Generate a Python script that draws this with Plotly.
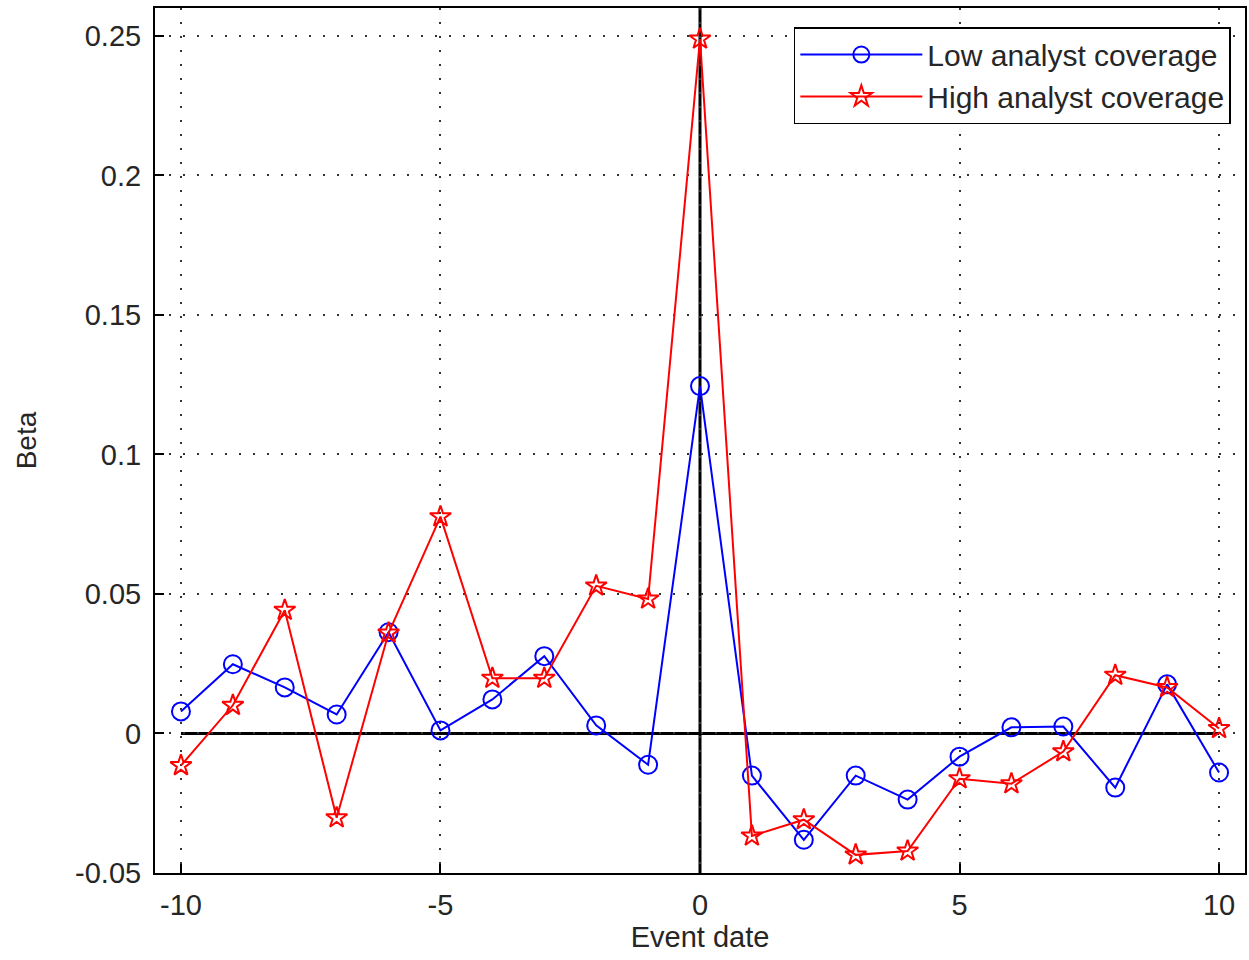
import plotly.graph_objects as go

event_date = list(range(-10, 11))
low_cov = [0.0079, 0.0248, 0.0165, 0.0068, 0.0363, 0.0011, 0.0122, 0.0277, 0.0029, -0.0112,
           0.1245, -0.0151, -0.0381, -0.0151, -0.0237, -0.0083, 0.0022, 0.0025, -0.0194, 0.0176, -0.0140]
high_cov = [-0.0115, 0.0101, 0.0442, -0.0302, 0.0360, 0.0777, 0.0198, 0.0198, 0.0529, 0.0482,
            0.2489, -0.0367, -0.0309, -0.0435, -0.0421, -0.0162, -0.0180, -0.0065, 0.0209, 0.0165, 0.0018]
x_ticks = [-10, -5, 0, 5, 10]
y_ticks = [-0.05, 0, 0.05, 0.1, 0.15, 0.2, 0.25]
y_labels = ["-0.05", "0", "0.05", "0.1", "0.15", "0.2", "0.25"]

fig = go.Figure()
fig.add_trace(go.Scatter(x=event_date, y=low_cov, mode="lines+markers", name="Low analyst coverage",
                         line=dict(color="#0000ff", width=2),
                         marker=dict(symbol="circle-open", size=18, color="#0000ff", line=dict(width=2))))
fig.add_trace(go.Scatter(x=event_date, y=high_cov, mode="lines+markers", name="High analyst coverage",
                         line=dict(color="#ff0000", width=2),
                         marker=dict(symbol="star-open", size=16, color="#ff0000", line=dict(width=2))))

# zero lines
fig.add_shape(type="line", xref="x", yref="y", x0=-10, x1=10, y0=0, y1=0,
              line=dict(color="black", width=3), layer="below")
fig.add_shape(type="line", xref="x", yref="paper", x0=0, x1=0, y0=0, y1=1,
              line=dict(color="black", width=3), layer="below")

fam = "Liberation Sans, Arial"
txt = "#262626"
grid = dict(showgrid=True, gridcolor="#333333", griddash="2px,12px", gridwidth=2,
            zeroline=False, showline=True, linecolor="black", linewidth=2, mirror=True,
            ticks="inside", ticklen=9, tickcolor="black", tickwidth=2)
fig.update_layout(
    width=1249, height=960,
    margin=dict(l=155, r=2, t=8, b=87),
    plot_bgcolor="white", paper_bgcolor="white",
    font=dict(family=fam, size=29, color=txt),
    showlegend=True,
    legend=dict(x=0.987, y=0.978, xanchor="right", yanchor="top",
                bordercolor="black", borderwidth=1.5, bgcolor="white",
                font=dict(family=fam, size=30, color=txt),
                itemwidth=122, tracegroupgap=0),
    xaxis=dict(range=[-10.5, 10.5], tickvals=x_ticks, ticktext=[str(v) for v in x_ticks],
               ticklabelstandoff=5,
               title=dict(text="Event date", font=dict(size=29), standoff=6), **grid),
    yaxis=dict(range=[-0.05, 0.26], tickvals=y_ticks, ticktext=y_labels,
               ticklabelstandoff=6,
               title=dict(text="Beta", font=dict(size=28), standoff=30), **grid),
)
fig.write_html("out.html")
